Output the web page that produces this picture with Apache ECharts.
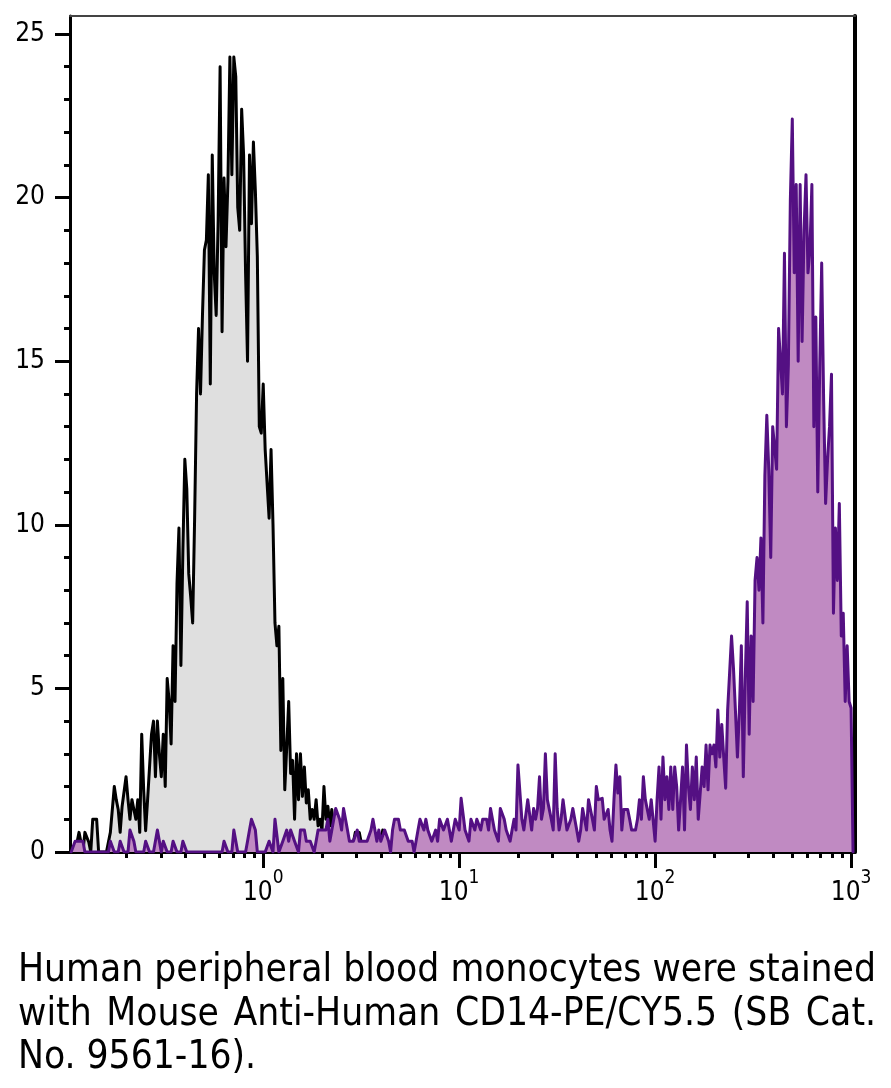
<!DOCTYPE html>
<html><head><meta charset="utf-8">
<script src="https://cdn.jsdelivr.net/npm/echarts@6/dist/echarts.min.js"></script>
<style>html,body{margin:0;padding:0;background:#fff}#c{width:891px;height:1088px}</style>
</head><body><div id="c"></div>
<script>
// histogram bins: centre of bin i is at log10(value) = binStart + i*binStep
const binStart = -0.98, binStep = 0.01;
const xMinLog = -0.986, xMaxLog = 3.02;
const yMax = 25.55;

// unstained / control (grey) histogram
const grayCounts = [
 0,0,0,0.3,0.6,0.3,0,0.6,0.6,0.3,
 0,1.0,1.0,1.0,0,0,0,0,0,0,
 0.6,0.6,2.0,1.6,1.3,0.6,1.4,1.4,2.3,1.6,
 1.0,1.6,1.3,1.0,1.6,0.6,3.6,1.9,0.65,1.6,
 2.6,3.6,4.0,2.3,4.0,3.0,2.3,3.6,2.0,5.3,
 4.6,3.3,6.3,4.6,8.2,9.9,5.7,9.2,12.0,11.1,
 8.5,7.8,7.0,10.2,14.0,16.0,14.0,16.4,18.4,18.7,
 20.7,14.3,21.3,17.7,16.4,19.3,24.0,15.9,20.6,18.5,
 20.5,24.3,20.7,24.3,23.7,19.7,19.0,22.7,21.3,17.7,
 15.0,21.3,19.2,21.7,20.2,18.2,13.0,12.8,14.3,12.3,
 12.3,10.2,12.3,10.0,7.0,6.3,6.9,3.1,5.3,1.9,
 3.2,4.6,2.4,2.8,1.0,3.0,1.6,3.0,1.7,2.6,
 1.5,1.9,1.0,1.3,1.0,1.6,0.8,1.0,0.67,2.0,
 1.0,1.4,0.8,1.3,0.6,0.6,1.0,0.6,0.3,0.6,
 0.3,0,0.3,0,0.3,0.6,0.3,0.6,0.3,0.3,
 0.3,0,0.3,0.3,0,0.3,0,0,0.3,0.67,
 0
];

// CD14-PE/CY5.5 stained (purple) histogram
const purpleCounts = [
 0,0,0.33,0.33,0.33,0.33,0.33,0,0,0,
 0,0,0,0,0,0,0,0,0,0,
 0.33,0.33,0,0,0,0.33,0.33,0,0,0,
 0.67,0.67,0.33,0,0,0,0,0,0.33,0.33,
 0,0,0,0,0.67,0.67,0,0.33,0.33,0,
 0,0,0.33,0.33,0,0,0,0.33,0.33,0,
 0,0,0,0,0,0,0,0,0,0,
 0,0,0,0,0,0,0,0,0.33,0.33,
 0,0,0,0.67,0.67,0,0,0,0,0,
 0.33,0.67,1.0,1.0,0.67,0,0,0,0,0,
 0,0.33,0.33,0,1.0,1.0,0,0,0.33,0.33,
 0.67,0.33,0.67,0.67,0.33,0.33,0,0.67,0.67,0.67,
 0.33,0.33,0.33,0.33,0,0.33,0.67,0.67,0.67,0.67,
 0.67,1.0,0.33,0.33,1.0,1.33,1.33,1.0,0.67,1.33,
 1.33,0.67,0.33,0.33,0.33,0.33,0.67,0.33,0.33,0.33,
 0.33,0.33,0.33,0.67,1.0,0.67,0.33,0.67,0.33,0.33,
 0.67,0.67,0.33,0,0.67,1.0,1.0,1.0,0.67,0.67,
 0.67,0.67,0.33,0.33,0.33,0,0.33,0.67,1.0,1.0,
 0.67,1.0,0.67,0.67,0.33,0.33,0.67,0.33,1.0,1.0,
 0.67,0.67,1.0,0.67,0.33,0.67,1.0,1.0,0.67,1.64,
 1.64,0.67,0.67,0.33,1.0,1.0,0.67,1.0,1.0,0.67,
 1.0,1.0,1.0,0.67,1.33,1.33,0.67,0.67,0.33,1.33,
 1.33,1.0,0.67,0.67,0.33,0.67,1.0,0.67,2.66,2.66,
 1.0,0.67,0.67,1.6,1.6,0.67,1.33,1.0,1.33,2.3,
 1.0,1.33,3.0,1.6,1.6,1.0,0.67,3.0,1.33,0.67,
 1.0,1.6,1.6,0.67,0.67,1.0,1.33,1.33,0.67,0.33,
 0.67,1.33,1.0,0.67,1.6,1.6,1.0,0.67,2.0,1.6,
 1.6,1.64,1.0,1.0,1.3,0.67,0.33,1.6,2.66,1.8,
 2.3,0.67,1.3,1.3,1.3,1.0,0.67,0.67,0.67,1.0,
 1.6,1.0,2.3,1.6,1.6,1.0,1.6,1.6,0.33,1.6,
 2.6,1.0,2.9,1.6,2.3,1.3,2.6,1.3,2.6,2.0,
 0.67,1.6,2.6,0.67,3.27,2.0,1.3,2.6,1.6,2.9,
 1.0,1.0,2.6,2.0,3.27,1.9,3.27,3.0,3.27,2.6,
 4.34,2.9,3.9,2.9,1.95,4.34,5.46,6.6,5.6,4.3,
 2.9,4.3,6.3,2.3,5.3,7.65,3.6,6.6,4.6,8.3,
 9.0,8.0,9.6,7.0,11.5,13.35,11.67,9.0,13.0,13.0,
 11.7,16.0,16.0,14.0,18.3,13.0,14.9,19.9,22.4,17.7,
 20.4,15.0,20.4,15.6,19.0,20.7,17.7,18.4,20.4,13.0,
 16.35,11.0,14.8,18.0,13.8,10.65,12.0,13.0,14.6,7.3,
 9.9,8.3,10.65,6.6,7.3,4.6,6.3,4.6,4.4,0
];

const yMajorTicks = [0, 5, 10, 15, 20, 25];
const xDecadeExponents = [0, 1, 2, 3];
const captionLines = [
 "Human peripheral blood monocytes were stained",
 "with Mouse Anti-Human CD14-PE/CY5.5 (SB Cat.",
 "No. 9561-16)."
];

function pickFont(cands) {
  const c = document.createElement('canvas').getContext('2d');
  const probe = 'Human peripheral 0123456789';
  for (const f of cands) {
    c.font = '40px monospace';
    const w0 = c.measureText(probe).width;
    c.font = '40px "' + f + '", monospace';
    const w1 = c.measureText(probe).width;
    if (Math.abs(w1 - w0) > 0.5) return f;
  }
  return 'sans-serif';
}
const fam = pickFont(['Liberation Sans Narrow', 'DejaVu Sans Condensed', 'Open Sans', 'Noto Sans']);

const grayData = grayCounts.map((v, i) => [binStart + i * binStep, v]);
const purpleData = purpleCounts.map((v, i) => [binStart + i * binStep, v]);

const xMinor = [];
for (let n = -1; n <= 2; n++) for (let k = 2; k <= 9; k++) {
  const v = Math.log10(k) + n;
  if (v > xMinLog && v < xMaxLog) xMinor.push(v);
}
const yMinor = [];
for (let v = 1; v < 25; v++) if (v % 5) yMinor.push(v);

// caption (justified like the original)
let capSize = 40;
const mctx = document.createElement('canvas').getContext('2d');
mctx.font = capSize + 'px "' + fam + '"';
const nat = mctx.measureText(captionLines[0]).width;
const capLeft = 18, capRight = 876;
if (nat > capRight - capLeft) { capSize = capSize * (capRight - capLeft) / nat; }
const capFont = capSize.toFixed(2) + 'px "' + fam + '"';
mctx.font = capFont;
const capY = [971, 1015, 1058];
const graphics = [];
captionLines.forEach((line, li) => {
  const st = (t) => ({ text: t, font: capFont, fill: '#000', textAlign: 'left', align: 'left', textVerticalAlign: 'middle', verticalAlign: 'middle' });
  if (li === captionLines.length - 1) {
    graphics.push({ type: 'text', x: capLeft, y: capY[li], style: st(line) });
    return;
  }
  const words = line.split(' ');
  const widths = words.map(w => mctx.measureText(w).width);
  const total = widths.reduce((a, b) => a + b, 0);
  const gap = (capRight - capLeft - total) / (words.length - 1);
  let x = capLeft;
  words.forEach((w, k) => {
    graphics.push({ type: 'text', x: x, y: capY[li], style: st(w) });
    x += widths[k] + gap;
  });
});

const black = '#000';
const chart = echarts.init(document.getElementById('c'), null, { renderer: 'canvas' });
const option = {
  animation: false,
  backgroundColor: '#fff',
  grid: { left: 70, right: 36, top: 16, bottom: 236, containLabel: false },
  xAxis: [
    { type: 'value', min: xMinLog, max: xMaxLog, position: 'bottom',
      axisLine: { show: true, onZero: false, lineStyle: { color: black, width: 3 } },
      axisTick: { show: true, customValues: xDecadeExponents, length: 16, lineStyle: { color: black, width: 3 } },
      axisLabel: { show: true, customValues: xDecadeExponents, margin: 17, verticalAlign: 'top',
        formatter: (v) => '{b|10}{s|' + Math.round(v) + '}',
        rich: {
          b: { fontSize: 26, fontFamily: fam, color: black, lineHeight: 37, verticalAlign: 'bottom' },
          s: { fontSize: 19, fontFamily: fam, color: black, lineHeight: 19, verticalAlign: 'top' }
        } },
      splitLine: { show: false } },
    { type: 'value', min: xMinLog, max: xMaxLog, position: 'bottom',
      axisLine: { show: false, onZero: false },
      axisTick: { show: true, customValues: xMinor, length: 6, lineStyle: { color: black, width: 3 } },
      axisLabel: { show: false }, splitLine: { show: false } },
    { type: 'value', min: xMinLog, max: xMaxLog, position: 'top',
      axisLine: { show: true, onZero: false, lineStyle: { color: '#444', width: 2 } },
      axisTick: { show: false }, axisLabel: { show: false }, splitLine: { show: false } }
  ],
  yAxis: [
    { type: 'value', min: 0, max: yMax, position: 'left',
      axisLine: { show: true, onZero: false, lineStyle: { color: black, width: 3 } },
      axisTick: { show: true, customValues: yMajorTicks, length: 15, lineStyle: { color: black, width: 3 } },
      axisLabel: { show: true, customValues: yMajorTicks, margin: 25, fontSize: 26, fontFamily: fam, color: black },
      splitLine: { show: false } },
    { type: 'value', min: 0, max: yMax, position: 'left',
      axisLine: { show: false, onZero: false },
      axisTick: { show: true, customValues: yMinor, length: 6, lineStyle: { color: black, width: 3 } },
      axisLabel: { show: false }, splitLine: { show: false } },
    { type: 'value', min: 0, max: yMax, position: 'right',
      axisLine: { show: true, onZero: false, lineStyle: { color: black, width: 4 } },
      axisTick: { show: false }, axisLabel: { show: false }, splitLine: { show: false } }
  ],
  series: [
    { type: 'line', xAxisIndex: 0, yAxisIndex: 0, data: grayData, symbol: 'none', silent: true, z: 2,
      lineStyle: { color: black, width: 3, join: 'round', cap: 'round' },
      areaStyle: { color: '#dfdfdf', opacity: 1 } },
    { type: 'line', xAxisIndex: 0, yAxisIndex: 0, data: purpleData, symbol: 'none', silent: true, z: 3,
      lineStyle: { color: '#541083', width: 3, join: 'round', cap: 'round' },
      areaStyle: { color: '#c08ac2', opacity: 1 } }
  ],
  graphic: graphics
};
chart.setOption(option);
</script>
</body></html>
